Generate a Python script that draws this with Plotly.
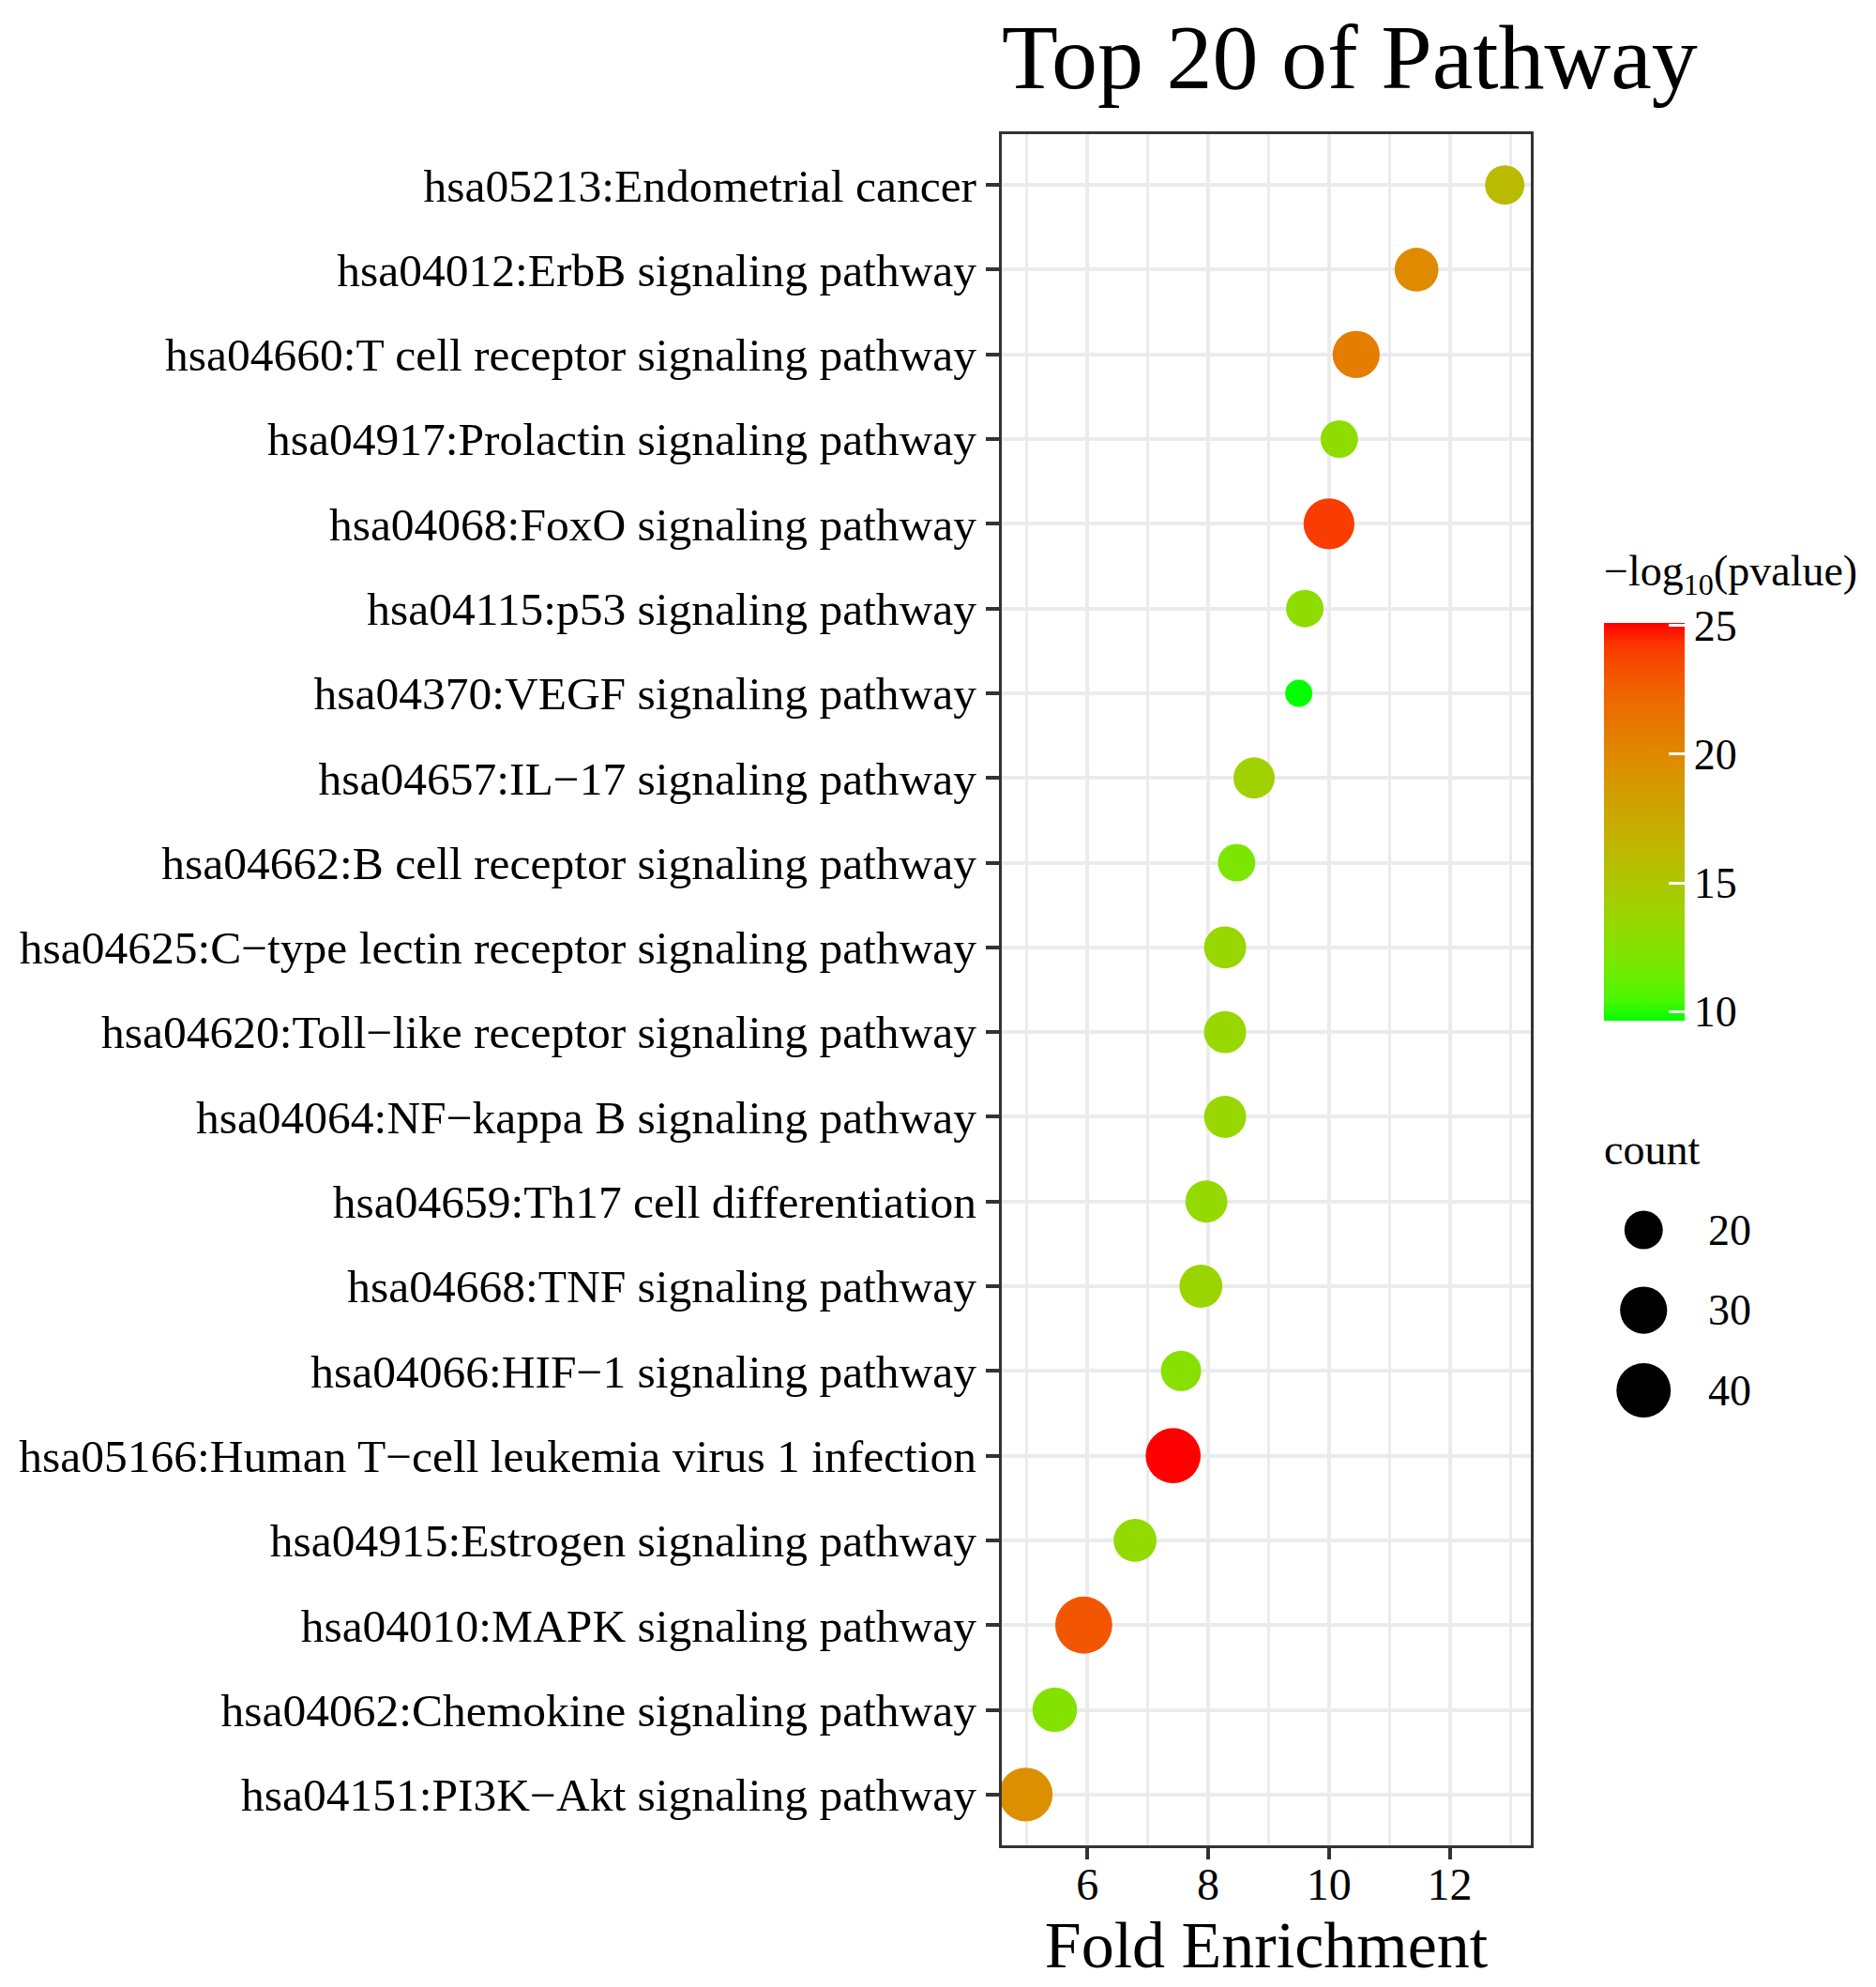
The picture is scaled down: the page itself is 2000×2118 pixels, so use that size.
import plotly.graph_objects as go

# 数据（自上而下）
pathways = [
    "hsa05213:Endometrial cancer",
    "hsa04012:ErbB signaling pathway",
    "hsa04660:T cell receptor signaling pathway",
    "hsa04917:Prolactin signaling pathway",
    "hsa04068:FoxO signaling pathway",
    "hsa04115:p53 signaling pathway",
    "hsa04370:VEGF signaling pathway",
    "hsa04657:IL−17 signaling pathway",
    "hsa04662:B cell receptor signaling pathway",
    "hsa04625:C−type lectin receptor signaling pathway",
    "hsa04620:Toll−like receptor signaling pathway",
    "hsa04064:NF−kappa B signaling pathway",
    "hsa04659:Th17 cell differentiation",
    "hsa04668:TNF signaling pathway",
    "hsa04066:HIF−1 signaling pathway",
    "hsa05166:Human T−cell leukemia virus 1 infection",
    "hsa04915:Estrogen signaling pathway",
    "hsa04010:MAPK signaling pathway",
    "hsa04062:Chemokine signaling pathway",
    "hsa04151:PI3K−Akt signaling pathway",
]
fold_enrichment = [12.91, 11.45, 10.45, 10.17, 10.0, 9.6, 9.5, 8.76, 8.47, 8.28,
                   8.28, 8.28, 7.97, 7.88, 7.55, 7.42, 6.79, 5.94, 5.46, 4.98]
neg_log10_p = [16.0, 19.8, 20.8, 13.0, 24.0, 13.0, 9.64, 14.0, 12.0, 13.5,
               13.5, 13.5, 13.3, 13.7, 12.6, 25.1, 13.2, 23.0, 12.4, 19.5]
gene_count = [21, 26, 30, 19, 35, 19, 10, 23, 19, 24,
              24, 24, 24, 25, 22, 41, 25, 44, 27, 39]

legend_counts = [20, 30, 40]
colorbar_ticks = [10, 15, 20, 25]
x_ticks = [6, 8, 10, 12]

FONT = "Liberation Serif, Times New Roman, serif"
SIZEREF = 2 * 20 / 41 ** 2

# 页面 body 默认有 8px 边距，整体向左上补偿
W, H = 1992, 2110
L_M, T_M, R_M, B_M = 1055, 135, 20, 151
PW, PH = W - L_M - R_M, H - T_M - B_M   # 917 x 1824


def px_x(v):  # 窗口像素 -> paper x
    return (v - 8 - L_M) / PW


def px_y(v):  # 窗口像素 -> paper y
    return (H - B_M - (v - 8)) / PH


# green -> red 在 Lab 空间插值（类似 ggplot 的 scale_colour_gradient）
def _to_lab(rgb):
    lin = [(c / 255) / 12.92 if c / 255 <= 0.04045 else (((c / 255) + 0.055) / 1.055) ** 2.4 for c in rgb]
    x = (0.4124 * lin[0] + 0.3576 * lin[1] + 0.1805 * lin[2]) / 0.95047
    y = 0.2126 * lin[0] + 0.7152 * lin[1] + 0.0722 * lin[2]
    z = (0.0193 * lin[0] + 0.1192 * lin[1] + 0.9505 * lin[2]) / 1.08883
    f = lambda t: t ** (1 / 3) if t > 0.008856 else 7.787 * t + 16 / 116
    fx, fy, fz = f(x), f(y), f(z)
    return 116 * fy - 16, 500 * (fx - fy), 200 * (fy - fz)


def _to_rgb(lab):
    L, a, b = lab
    fy = (L + 16) / 116
    fx = fy + a / 500
    fz = fy - b / 200
    g = lambda t: t ** 3 if t ** 3 > 0.008856 else (t - 16 / 116) / 7.787
    x, y, z = 0.95047 * g(fx), g(fy), 1.08883 * g(fz)
    r = 3.2406 * x - 1.5372 * y - 0.4986 * z
    gg = -0.9689 * x + 1.8758 * y + 0.0415 * z
    bb = 0.0557 * x - 0.2040 * y + 1.0570 * z
    out = []
    for c in (r, gg, bb):
        c = max(0.0, min(1.0, c))
        c = 12.92 * c if c <= 0.0031308 else 1.055 * c ** (1 / 2.4) - 0.055
        out.append(round(c * 255))
    return "rgb({},{},{})".format(*out)


lo, hi = _to_lab((0, 255, 0)), _to_lab((255, 0, 0))
colorscale = []
for i in range(21):
    t = i / 20
    colorscale.append([t, _to_rgb([lo[k] + (hi[k] - lo[k]) * t for k in range(3)])])

fig = go.Figure()

fig.add_trace(go.Scatter(
    x=fold_enrichment,
    y=pathways,
    mode="markers",
    marker=dict(
        size=gene_count,
        sizemode="area",
        sizeref=SIZEREF,
        color=neg_log10_p,
        colorscale=colorscale,
        opacity=1,
        line=dict(width=0),
        colorbar=dict(
            thickness=86, thicknessmode="pixels",
            len=424, lenmode="pixels",
            x=px_x(1709), xanchor="left",
            y=px_y(876), yanchor="middle",
            xpad=0, ypad=0,
            outlinewidth=0,
            ticks="inside", ticklen=17, tickwidth=3, tickcolor="white",
            tickvals=colorbar_ticks,
            tickfont=dict(family=FONT, size=46, color="black"),
        ),
    ),
    showlegend=False,
    xaxis="x", yaxis="y",
))

# count 图例
fig.add_trace(go.Scatter(
    x=[0] * len(legend_counts),
    y=legend_counts,
    mode="markers",
    marker=dict(size=legend_counts, sizemode="area", sizeref=SIZEREF,
                color="black", opacity=1, line=dict(width=0)),
    showlegend=False,
    hoverinfo="skip",
    xaxis="x2", yaxis="y2",
))

annotations = [
    dict(text="−log<sub>10</sub>(pvalue)", xref="paper", yref="paper",
         x=px_x(1707), y=px_y(612), xanchor="left", yanchor="middle",
         showarrow=False, font=dict(family=FONT, size=46, color="black")),
    dict(text="count", xref="paper", yref="paper",
         x=px_x(1707), y=px_y(1225), xanchor="left", yanchor="middle",
         showarrow=False, font=dict(family=FONT, size=46, color="black")),
]
for c in legend_counts:
    annotations.append(dict(
        text=str(c), xref="paper", yref="y2",
        x=px_x(1818), y=c, xanchor="left", yanchor="middle",
        showarrow=False, font=dict(family=FONT, size=46, color="black"),
    ))

fig.update_layout(
    width=W, height=H,
    margin=dict(l=L_M, r=R_M, t=T_M, b=B_M),
    paper_bgcolor="white", plot_bgcolor="white",
    font=dict(family=FONT, color="black"),
    title=dict(text="Top 20 of Pathway", xref="paper", x=0, xanchor="left",
               yref="container", y=1 - 52 / H, yanchor="middle",
               font=dict(family=FONT, size=98, color="black")),
    xaxis=dict(
        domain=[0, 567 / PW],
        range=[4.583, 13.34],
        tickvals=x_ticks,
        ticks="outside", ticklen=12, tickwidth=4, tickcolor="#333333",
        ticklabelstandoff=-15,
        tickfont=dict(family=FONT, size=48, color="black"),
        showgrid=True, gridcolor="#EBEBEB", gridwidth=4,
        minor=dict(dtick=1, tick0=0, showgrid=True, gridcolor="#EBEBEB", gridwidth=3),
        showline=True, linecolor="#333333", linewidth=3, mirror=True,
        zeroline=False,
        title=dict(text="Fold Enrichment", standoff=2,
                   font=dict(family=FONT, size=70, color="black")),
    ),
    yaxis=dict(
        type="category",
        categoryorder="array", categoryarray=pathways[::-1],
        range=[-0.6, len(pathways) - 0.4],
        ticks="outside", ticklen=14, tickwidth=4, tickcolor="#333333",
        tickfont=dict(family=FONT, size=49.5, color="black"),
        showgrid=True, gridcolor="#EBEBEB", gridwidth=4,
        showline=True, linecolor="#333333", linewidth=3, mirror=True,
        zeroline=False,
    ),
    xaxis2=dict(domain=[px_x(1700), px_x(1900)], range=[-51, 149],
                visible=False, anchor="y2"),
    yaxis2=dict(domain=[px_y(1525), px_y(1270)], range=[45.03, 15.2],
                visible=False, anchor="x2"),
    annotations=annotations,
)

fig.write_html("out.html")
